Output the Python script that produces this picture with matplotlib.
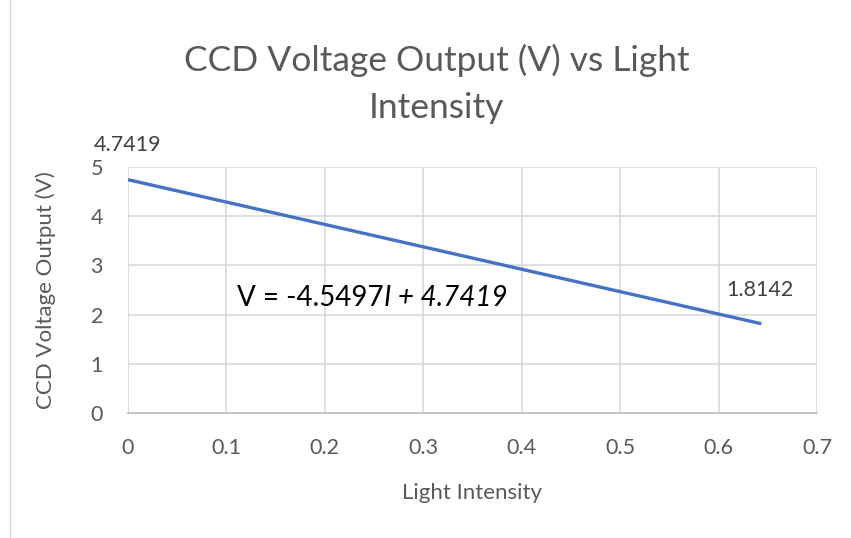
import matplotlib.pyplot as plt
from matplotlib.lines import Line2D

# trendline endpoints
xVals = [0.0, 0.6435]
yVals = [4.7419, 1.8142]
xTicks = [0, 0.1, 0.2, 0.3, 0.4, 0.5, 0.6, 0.7]
yTicks = [0, 1, 2, 3, 4, 5]

plt.rcParams['font.family'] = ['Lato', 'DejaVu Sans']

fig = plt.figure(figsize=(8.51, 5.38), dpi=100)
ax = fig.add_axes([0.1504, 0.2323, 0.8096, 0.4573])

ax.plot(xVals, yVals, color='#4472C4', linewidth=2.4, solid_capstyle='butt')

ax.set_xlim(0, 0.7)
ax.set_ylim(0, 5)
ax.set_xticks(xTicks)
ax.set_xticklabels(['0', '0.1', '0.2', '0.3', '0.4', '0.5', '0.6', '0.7'])
ax.set_yticks(yTicks)
ax.grid(True, color='#d9d9d9', linewidth=1.2)
ax.set_axisbelow(True)
for s in ['top', 'right', 'left']:
    ax.spines[s].set_visible(False)
ax.spines['bottom'].set_color('#bfbfbf')
ax.spines['bottom'].set_linewidth(1.2)
ax.tick_params(length=0, labelsize=15.5, colors='#595959')
ax.tick_params(axis='x', pad=18)
ax.tick_params(axis='y', pad=18)

ax.set_xlabel('Light Intensity', fontsize=16, color='#595959', labelpad=18)
ax.set_ylabel('CCD Voltage Output (V)', fontsize=16, color='#595959', labelpad=25)
ax.set_title('CCD Voltage Output (V) vs Light\nIntensity', fontsize=25.5, color='#595959',
             pad=35.5, linespacing=1.55, x=0.448)

# data labels
ax.annotate('4.7419', (xVals[0], yVals[0]), xytext=(0, 25), textcoords='offset points',
            ha='center', va='center', fontsize=15.5, color='#404040')
ax.annotate('1.8142', (xVals[1], yVals[1]), xytext=(-1, 24), textcoords='offset points',
            ha='center', va='center', fontsize=15.5, color='#404040')

# trendline equation, italic part placed right after the upright part
eq = ax.text(0.111, 2.34, 'V = -4.5497', ha='left', va='center', fontsize=20, color='#000000')
ax.annotate('I + 4.7419', xy=(1, 0.5), xycoords=eq, ha='left', va='center',
            fontsize=20, style='italic', color='#000000')

fig.add_artist(Line2D([10 / 851, 10 / 851], [0, 1], color='#d9d9d9', linewidth=1))

fig.savefig('out.png', dpi=100, facecolor='white')
